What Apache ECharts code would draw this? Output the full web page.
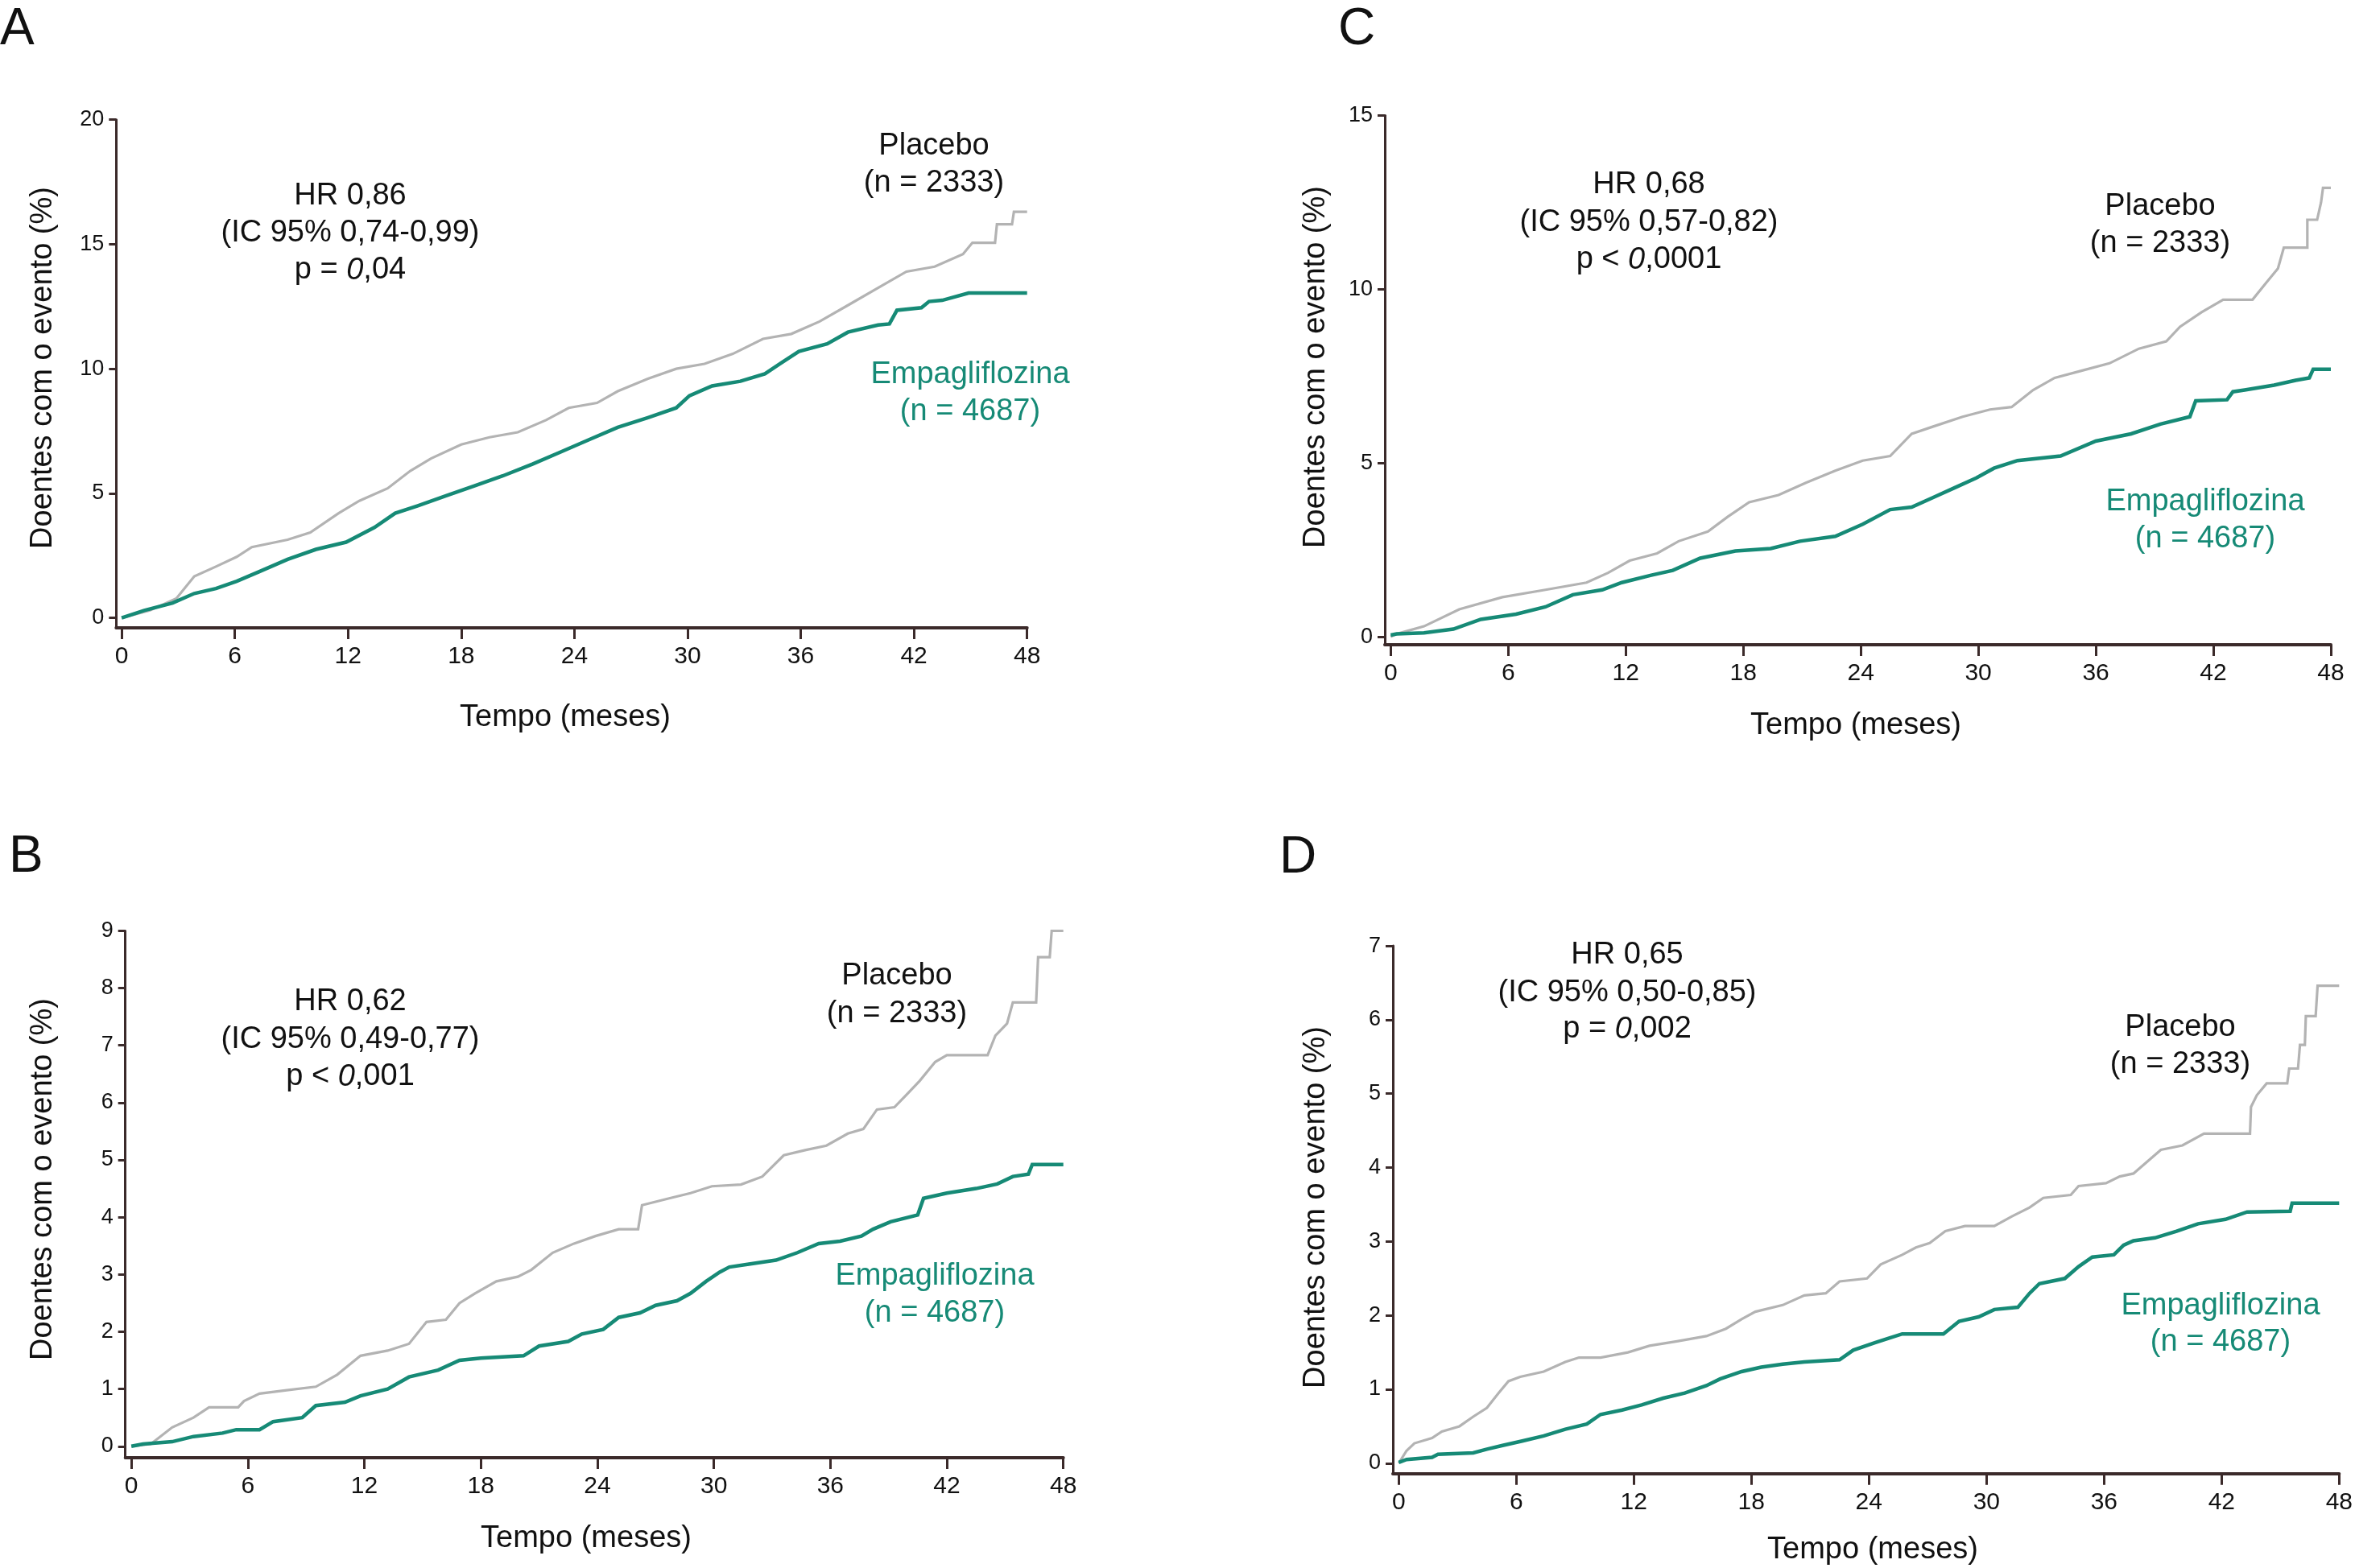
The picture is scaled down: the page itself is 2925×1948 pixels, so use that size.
<!DOCTYPE html>
<html>
<head>
<meta charset="utf-8">
<script src="https://cdn.jsdelivr.net/npm/echarts@6/dist/echarts.min.js"></script>
<style>
html,body{margin:0;padding:0;background:#fff;}
#c{width:2925px;height:1948px;}
</style>
</head>
<body>
<div id="c"></div>
<script>
// ---------- data (time in months, value in %) ----------
const xTicks = [0, 6, 12, 18, 24, 30, 36, 42, 48];
const yTicksA = [0, 5, 10, 15, 20];
const yTicksB = [0, 1, 2, 3, 4, 5, 6, 7, 8, 9];
const yTicksC = [0, 5, 10, 15];
const yTicksD = [0, 1, 2, 3, 4, 5, 6, 7];

const placeboA = [[0,0],[1.5,0.3],[2.9,0.78],[3.85,1.67],[5.0,2.06],[6.1,2.45],[6.9,2.84],[8.8,3.14],[10.0,3.43],[11.5,4.2],[12.6,4.7],[14.1,5.2],[15.3,5.9],[16.4,6.4],[18.0,6.96],[19.5,7.25],[21.0,7.45],[22.5,7.94],[23.7,8.43],[25.2,8.63],[26.3,9.1],[27.9,9.6],[29.4,10.0],[30.9,10.2],[32.4,10.6],[34.0,11.2],[35.5,11.4],[37.0,11.9],[38.5,12.55],[40.1,13.25],[41.6,13.9],[43.1,14.1],[44.6,14.6],[45.1,15.06],[46.3,15.06],[46.4,15.8],[47.2,15.8],[47.3,16.3],[48.0,16.3]];
const empaA = [[0,0],[1.2,0.3],[2.7,0.6],[3.85,0.98],[5.0,1.18],[6.1,1.47],[7.3,1.86],[8.8,2.35],[10.3,2.75],[11.9,3.04],[13.4,3.63],[14.5,4.2],[15.7,4.5],[17.2,4.9],[18.7,5.3],[20.2,5.7],[21.8,6.18],[23.3,6.67],[24.8,7.16],[26.3,7.65],[27.9,8.04],[29.4,8.43],[30.1,8.92],[31.3,9.31],[32.8,9.5],[34.1,9.8],[34.9,10.2],[35.9,10.7],[37.4,11.0],[38.5,11.47],[40.1,11.76],[40.7,11.8],[41.1,12.35],[42.4,12.45],[42.8,12.7],[43.5,12.75],[44.9,13.04],[48.0,13.04]];

const placeboB = [[0,0],[1.0,0.04],[2.1,0.33],[3.2,0.5],[4.0,0.68],[5.5,0.68],[5.8,0.79],[6.6,0.92],[8.0,0.98],[9.5,1.04],[10.6,1.25],[11.8,1.58],[13.2,1.67],[14.3,1.79],[15.2,2.17],[16.2,2.21],[16.9,2.5],[17.7,2.67],[18.8,2.88],[19.9,2.96],[20.6,3.08],[21.7,3.38],[22.8,3.54],[23.9,3.67],[25.1,3.79],[26.1,3.79],[26.3,4.21],[27.7,4.33],[28.8,4.42],[29.9,4.54],[31.4,4.57],[32.5,4.71],[33.6,5.08],[34.7,5.17],[35.8,5.25],[36.9,5.46],[37.7,5.54],[38.4,5.88],[39.3,5.92],[39.9,6.13],[40.6,6.38],[41.4,6.71],[42.0,6.83],[44.1,6.83],[44.5,7.17],[45.1,7.38],[45.4,7.75],[46.6,7.75],[46.7,8.54],[47.3,8.54],[47.4,9.0],[48.0,9.0]];
const empaB = [[0,0],[0.6,0.04],[2.1,0.08],[3.2,0.17],[4.7,0.23],[5.4,0.29],[6.6,0.29],[7.3,0.43],[8.8,0.5],[9.5,0.71],[11.0,0.77],[11.8,0.88],[13.2,1.0],[14.3,1.21],[15.8,1.33],[16.9,1.5],[18.0,1.54],[20.2,1.58],[21.0,1.75],[22.5,1.83],[23.2,1.96],[24.3,2.04],[25.1,2.25],[26.2,2.33],[27.0,2.46],[28.1,2.54],[28.8,2.67],[29.6,2.88],[30.3,3.04],[30.8,3.13],[31.8,3.18],[33.2,3.25],[34.3,3.38],[35.4,3.54],[36.5,3.58],[37.6,3.67],[38.2,3.79],[39.1,3.92],[40.5,4.04],[40.8,4.33],[42.0,4.42],[43.5,4.5],[44.6,4.58],[45.4,4.71],[46.2,4.75],[46.4,4.92],[48.0,4.92]];

const placeboC = [[0,0],[0.3,0.08],[1.7,0.3],[3.5,0.79],[5.7,1.14],[7.9,1.35],[10.0,1.56],[11.1,1.84],[12.2,2.19],[13.6,2.4],[14.7,2.75],[16.2,3.03],[17.2,3.45],[18.3,3.87],[19.8,4.08],[21.2,4.43],[22.7,4.78],[24.1,5.07],[25.5,5.2],[26.6,5.84],[27.7,6.05],[29.2,6.33],[30.6,6.54],[31.7,6.61],[32.8,7.1],[33.9,7.45],[35.3,7.66],[36.7,7.87],[38.2,8.29],[39.6,8.5],[40.3,8.92],[41.4,9.34],[42.5,9.7],[44.0,9.7],[44.7,10.19],[45.3,10.6],[45.6,11.2],[46.8,11.2],[46.8,12.0],[47.3,12.0],[47.5,12.5],[47.6,12.92],[48.0,12.92]];
const empaC = [[0,0.05],[0.3,0.08],[1.7,0.11],[3.2,0.22],[4.6,0.5],[6.4,0.65],[7.9,0.86],[9.3,1.21],[10.8,1.35],[11.8,1.56],[13.3,1.77],[14.4,1.91],[15.8,2.26],[17.6,2.47],[19.4,2.54],[20.9,2.75],[22.7,2.89],[24.1,3.24],[25.5,3.66],[26.6,3.73],[27.7,4.01],[28.8,4.29],[29.9,4.57],[30.8,4.85],[32.0,5.07],[34.2,5.2],[36.0,5.63],[37.8,5.84],[39.3,6.12],[40.8,6.33],[41.1,6.79],[42.7,6.82],[43.0,7.05],[43.6,7.1],[45.1,7.24],[46.2,7.38],[46.9,7.45],[47.1,7.7],[48.0,7.7]];

const placeboD = [[0,0],[0.4,0.17],[0.8,0.27],[1.7,0.34],[2.2,0.43],[3.1,0.5],[3.8,0.63],[4.5,0.75],[5.1,0.95],[5.6,1.11],[6.2,1.17],[7.4,1.24],[8.5,1.37],[9.2,1.43],[10.3,1.43],[11.7,1.5],[12.8,1.59],[14.2,1.65],[15.7,1.72],[16.7,1.82],[17.5,1.95],[18.2,2.05],[19.6,2.14],[20.7,2.27],[21.8,2.3],[22.5,2.46],[23.9,2.5],[24.6,2.69],[25.7,2.82],[26.4,2.92],[27.1,2.98],[27.9,3.14],[28.9,3.21],[30.4,3.21],[31.3,3.34],[32.2,3.46],[32.9,3.59],[34.3,3.63],[34.7,3.75],[36.1,3.79],[36.8,3.88],[37.5,3.92],[38.2,4.08],[38.9,4.24],[40.0,4.3],[41.1,4.46],[43.45,4.46],[43.5,4.82],[43.8,4.98],[44.3,5.14],[45.35,5.14],[45.45,5.34],[45.9,5.34],[46.0,5.66],[46.25,5.66],[46.3,6.05],[46.8,6.05],[46.9,6.46],[48.0,6.46]];
const empaD = [[0,0.01],[0.4,0.05],[1.7,0.08],[2.0,0.12],[3.8,0.14],[4.5,0.19],[5.3,0.24],[6.3,0.3],[7.4,0.37],[8.5,0.46],[9.6,0.53],[10.3,0.66],[11.4,0.72],[12.4,0.79],[13.5,0.88],[14.6,0.95],[15.7,1.05],[16.4,1.14],[17.5,1.24],[18.5,1.3],[19.6,1.34],[20.7,1.37],[22.5,1.4],[23.2,1.53],[24.3,1.63],[25.0,1.69],[25.7,1.75],[27.8,1.75],[28.6,1.92],[29.6,1.98],[30.4,2.08],[31.6,2.11],[32.2,2.3],[32.7,2.43],[34.0,2.5],[34.7,2.66],[35.4,2.79],[36.5,2.82],[37.0,2.95],[37.5,3.01],[38.6,3.05],[39.7,3.14],[40.8,3.24],[42.2,3.3],[43.3,3.4],[45.5,3.41],[45.6,3.52],[48.0,3.52]];

const panelLetters = ['A', 'B', 'C', 'D'];
const hrLines = [
  ['HR 0,86', '(IC 95% 0,74-0,99)', ['p = ', '0', ',04']],
  ['HR 0,62', '(IC 95% 0,49-0,77)', ['p < ', '0', ',001']],
  ['HR 0,68', '(IC 95% 0,57-0,82)', ['p < ', '0', ',0001']],
  ['HR 0,65', '(IC 95% 0,50-0,85)', ['p = ', '0', ',002']]
];
const placeboLabel = ['Placebo', '(n = 2333)'];
const empaLabel = ['Empagliflozina', '(n = 4687)'];
const yName = 'Doentes com o evento (%)';
const xName = 'Tempo (meses)';

// ---------- styling / layout ----------
const FONT = "'Liberation Sans', Arial, Helvetica, sans-serif";
const AX = '#3b2a2a';
const GRAY = '#b3b3b3';
const TEAL = '#168a76';
const TXT = '#111111';

const panels = [
  { key:'A', grid:{left:144.3, top:148.7, width:1131.4, height:631.3}, xmin:-0.29, ymin:-0.40, ymax:20, yTicks:yTicksA, pl:placeboA, em:empaA,
    letter:[0,37], hr:[435,244,290,336], plc:[1160,182,228], emp:[1205,466,512], yn:[54,457], xn:[702,892] },
  { key:'B', grid:{left:155.7, top:1156.4, width:1165, height:654.6}, xmin:-0.31, ymin:-0.20, ymax:9, yTicks:yTicksB, pl:placeboB, em:empaB,
    letter:[11,1065], hr:[435,1245,1292,1338], plc:[1114,1213,1260], emp:[1161,1586,1632], yn:[54,1465], xn:[728,1912] },
  { key:'C', grid:{left:1720, top:143.5, width:1175, height:657.5}, xmin:-0.30, ymin:-0.23, ymax:15, yTicks:yTicksC, pl:placeboC, em:empaC,
    letter:[1662,37], hr:[2048,230,277,323], plc:[2683,257,303], emp:[2739,624,670], yn:[1635,456], xn:[2305,902] },
  { key:'D', grid:{left:1730, top:1175.1, width:1181, height:655.6}, xmin:-0.30, ymin:-0.14, ymax:7, yTicks:yTicksD, pl:placeboD, em:empaD,
    letter:[1589,1066], hr:[2021,1187,1234,1279], plc:[2708,1277,1323], emp:[2758,1623,1668], yn:[1635,1500], xn:[2326,1926] }
];

const grids = [], xAxes = [], yAxes = [], series = [], graphics = [];

function txt(x, y, text, opts) {
  opts = opts || {};
  return {
    type: 'text', x: x, y: y, rotation: opts.rotation || 0, silent: true,
    style: {
      text: text, fill: opts.fill || TXT,
      fontSize: opts.size || 38, fontFamily: FONT,
      align: opts.align || 'center', verticalAlign: 'middle'
    }
  };
}

panels.forEach((p, i) => {
  grids.push(Object.assign({ containLabel: false }, p.grid));
  xAxes.push({
    gridIndex: i, type: 'value', min: p.xmin, max: 48,
    axisLine: { show: true, onZero: false, lineStyle: { color: AX, width: 4 } },
    axisTick: { show: true, length: 14, customValues: xTicks, lineStyle: { color: AX, width: 3 } },
    axisLabel: { customValues: xTicks, fontSize: 30, margin: 21, color: TXT, fontFamily: FONT },
    splitLine: { show: false }
  });
  yAxes.push({
    gridIndex: i, type: 'value', min: p.ymin, max: p.ymax,
    axisLine: { show: true, onZero: false, lineStyle: { color: AX, width: 3 } },
    axisTick: { show: true, length: 9, customValues: p.yTicks, lineStyle: { color: AX, width: 3 } },
    axisLabel: { customValues: p.yTicks, fontSize: 27, margin: 15, color: TXT, fontFamily: FONT },
    splitLine: { show: false }
  });
  series.push({
    name: 'Placebo ' + p.key, type: 'line', xAxisIndex: i, yAxisIndex: i,
    data: p.pl, showSymbol: false, symbol: 'none', z: 2,
    lineStyle: { color: GRAY, width: 3.2, join: 'miter' }
  });
  series.push({
    name: 'Empagliflozina ' + p.key, type: 'line', xAxisIndex: i, yAxisIndex: i,
    data: p.em, showSymbol: false, symbol: 'none', z: 3,
    lineStyle: { color: TEAL, width: 4.5, join: 'miter' }
  });

  const h = hrLines[i];
  graphics.push(txt(p.letter[0], p.letter[1], panelLetters[i], { size: 64, align: 'left' }));
  graphics.push(txt(p.hr[0], p.hr[1], h[0]));
  graphics.push(txt(p.hr[0], p.hr[2], h[1]));
  graphics.push({
    type: 'text', x: p.hr[0], y: p.hr[3], silent: true,
    style: {
      text: '{n|' + h[2][0] + '}{i|' + h[2][1] + '}{n|' + h[2][2] + '}',
      align: 'center', verticalAlign: 'middle',
      rich: {
        n: { fontSize: 38, fontFamily: FONT, fill: TXT, color: TXT },
        i: { fontSize: 38, fontFamily: FONT, fontStyle: 'italic', fill: TXT, color: TXT }
      }
    }
  });
  graphics.push(txt(p.plc[0], p.plc[1], placeboLabel[0]));
  graphics.push(txt(p.plc[0], p.plc[2], placeboLabel[1]));
  graphics.push(txt(p.emp[0], p.emp[1], empaLabel[0], { fill: TEAL }));
  graphics.push(txt(p.emp[0], p.emp[2], empaLabel[1], { fill: TEAL }));
  graphics.push(txt(p.yn[0], p.yn[1], yName, { rotation: Math.PI / 2 }));
  graphics.push(txt(p.xn[0], p.xn[1], xName));
});

const chart = echarts.init(document.getElementById('c'), null, { renderer: 'canvas', width: 2925, height: 1948 });
chart.setOption({
  backgroundColor: '#ffffff',
  animation: false,
  grid: grids,
  xAxis: xAxes,
  yAxis: yAxes,
  series: series,
  graphic: graphics
});
</script>
</body>
</html>
